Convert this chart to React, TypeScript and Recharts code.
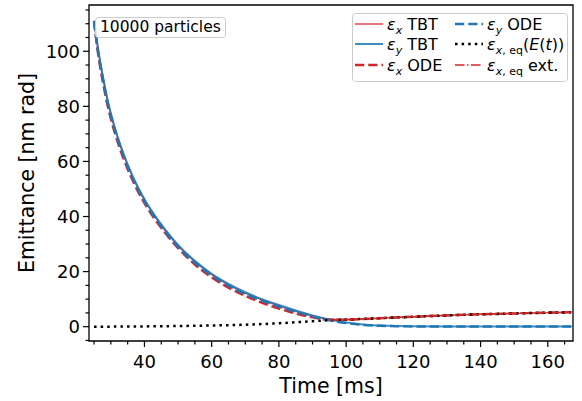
import React from "react";
import { LineChart, Line, XAxis, YAxis, ReferenceArea } from "recharts";

// time axis [ms]
const times = [25, 26, 27, 28, 29, 30, 32, 34, 36, 38, 40, 43, 46, 50, 55, 60, 65, 70, 75, 80, 85, 90, 95, 100, 105, 110, 115, 120, 130, 140, 150, 160, 167];

// emittances [nm rad]
const epsXTbt = [111, 102.3, 94.8, 88.3, 82.2, 77.2, 68.7, 61.7, 55.7, 50.5, 46, 40.2, 35.2, 29.4, 23.6, 18.9, 15.2, 12.2, 9.7, 7.6, 5.6, 3.9, 2.7, 2.55, 2.75, 3.05, 3.35, 3.6, 4.1, 4.5, 4.8, 5.1, 5.2];
const epsYTbt = [111, 102.5, 95, 88.5, 82.5, 77.5, 69, 62, 56, 50.8, 46.3, 40.5, 35.5, 29.7, 23.9, 19.2, 15.5, 12.5, 10, 7.9, 5.9, 4.1, 2.6, 1.5, 0.8, 0.45, 0.25, 0.15, 0.1, 0.08, 0.07, 0.06, 0.06];
const epsXOde = [111, 101, 93, 86.5, 80.5, 75.5, 67.2, 60.3, 54.4, 49.3, 44.9, 39.2, 34.3, 28.5, 22.6, 17.9, 14.2, 11.2, 8.7, 6.6, 4.8, 3.4, 2.5, 2.5, 2.75, 3.05, 3.35, 3.6, 4.1, 4.5, 4.8, 5.1, 5.2];
const epsYOde = [111, 101.5, 94, 87.5, 81.5, 76.5, 68.2, 61.2, 55.2, 50.1, 45.6, 39.8, 34.8, 29, 23.2, 18.6, 14.9, 11.9, 9.4, 7.3, 5.4, 3.7, 2.3, 1.3, 0.65, 0.33, 0.18, 0.1, 0.06, 0.05, 0.05, 0.05, 0.05];
const epsEqE = [0, 0, 0, 0, 0, 0.02, 0.03, 0.05, 0.06, 0.08, 0.1, 0.13, 0.17, 0.25, 0.32, 0.42, 0.55, 0.72, 0.95, 1.25, 1.6, 2.0, 2.35, 2.6, 2.85, 3.1, 3.35, 3.6, 4.1, 4.5, 4.8, 5.1, 5.2];
const epsEqExt = [null, null, null, null, null, null, null, null, null, null, null, null, null, null, null, null, null, null, null, null, null, null, 2.4, 2.62, 2.88, 3.12, 3.37, 3.62, 4.12, 4.52, 4.82, 5.12, 5.22];

const xMajor = [40, 60, 80, 100, 120, 140, 160];
const xTicks = [25, 30, 35, 40, 45, 50, 55, 60, 65, 70, 75, 80, 85, 90, 95, 100, 105, 110, 115, 120, 125, 130, 135, 140, 145, 150, 155, 160, 165];
const yMajor = [0, 20, 40, 60, 80, 100];
const yTicks = [-5, 0, 5, 10, 15, 20, 25, 30, 35, 40, 45, 50, 55, 60, 65, 70, 75, 80, 85, 90, 95, 100, 105, 110, 115];

const data = times.map((t, i) => ({
  t,
  xTbt: epsXTbt[i],
  yTbt: epsYTbt[i],
  xOde: epsXOde[i],
  yOde: epsYOde[i],
  eqE: epsEqE[i],
  eqExt: epsEqExt[i],
}));

const RED = "#d62728";
const BLUE = "#1f77b4";
const FONT = "DejaVu Sans";

const XTick = (props: any) => {
  const { x, y, payload } = props;
  const major = xMajor.includes(payload.value);
  return (
    <g>
      <line x1={x} x2={x} y1={y} y2={y + (major ? 6 : 3.5)} stroke="#000" strokeWidth={1.2} />
      {major && (
        <text x={x} y={y + 27} textAnchor="middle" fontSize={18} fontFamily={FONT} fill="#000">
          {payload.value}
        </text>
      )}
    </g>
  );
};

const YTick = (props: any) => {
  const { x, y, payload } = props;
  const major = yMajor.includes(payload.value);
  return (
    <g>
      <line x1={x} x2={x - (major ? 6 : 3.5)} y1={y} y2={y} stroke="#000" strokeWidth={1.2} />
      {major && (
        <text x={x - 9} y={y + 6.5} textAnchor="end" fontSize={18} fontFamily={FONT} fill="#000">
          {payload.value}
        </text>
      )}
    </g>
  );
};

const Sample = ({ x, y, color, width, dash, opacity = 1 }: any) => (
  <line x1={x} x2={x + 28} y1={y} y2={y} stroke={color} strokeWidth={width} strokeDasharray={dash} strokeOpacity={opacity} />
);

const Eps = ({ sub, rest }: { sub: React.ReactNode; rest: React.ReactNode }) => (
  <>
    <tspan fontStyle="italic">ε</tspan>
    <tspan fontSize={11} dy={4}>{sub}</tspan>
    <tspan dy={-4}>{rest}</tspan>
  </>
);

const Overlay = () => (
  <svg width={582} height={401} style={{ position: "absolute", left: 0, top: 0, pointerEvents: "none" }}>
    {/* annotation */}
    <rect x={95.5} y={17.5} width={130} height={20} rx={3} fill="rgba(255,255,255,0.8)" stroke="#cccccc" strokeWidth={1} />
    <text x={100} y={32} fontSize={15.5} fontFamily={FONT} fill="#000">10000 particles</text>

    {/* legend */}
    <rect x={352.5} y={13.5} width={215} height={68} rx={3} fill="rgba(255,255,255,0.8)" stroke="#cccccc" strokeWidth={1} />
    <g fontFamily={FONT} fontSize={16} fill="#000">
      <Sample x={355} y={24} color={RED} width={1.5} opacity={0.85} />
      <text x={387} y={30}><Eps sub={<tspan fontStyle="italic">x</tspan>} rest=" TBT" /></text>
      <Sample x={355} y={44} color={BLUE} width={2} opacity={0.85} />
      <text x={387} y={50}><Eps sub={<tspan fontStyle="italic">y</tspan>} rest=" TBT" /></text>
      <Sample x={355} y={65} color={RED} width={2.5} dash="9.25 4" />
      <text x={387} y={71}><Eps sub={<tspan fontStyle="italic">x</tspan>} rest=" ODE" /></text>

      <Sample x={455} y={24} color={BLUE} width={2.5} dash="9.25 4" />
      <text x={487} y={30}><Eps sub={<tspan fontStyle="italic">y</tspan>} rest=" ODE" /></text>
      <Sample x={455} y={44} color="#000" width={2.5} dash="2.5 4.1" />
      <text x={487} y={50}>
        <Eps
          sub={<><tspan fontStyle="italic">x</tspan>, eq</>}
          rest={<>(<tspan fontStyle="italic">E</tspan>(<tspan fontStyle="italic">t</tspan>))</>}
        />
      </text>
      <Sample x={455} y={65} color={RED} width={1.5} dash="9.6 2.4 1.5 2.4" />
      <text x={487} y={71}>
        <Eps sub={<><tspan fontStyle="italic">x</tspan>, eq</>} rest=" ext." />
      </text>
    </g>

    {/* axis labels */}
    <text x={331} y={393} textAnchor="middle" fontSize={20.5} fontFamily={FONT} fill="#000">Time [ms]</text>
    <text x={34} y={173} textAnchor="middle" fontSize={20.5} fontFamily={FONT} fill="#000" transform="rotate(-90 34 173)">
      Emittance [nm rad]
    </text>
  </svg>
);

export default function App() {
  return (
    <div style={{ position: "absolute", left: 0, top: 0, width: 582, height: 401, background: "#fff" }}>
      <LineChart width={582} height={401} data={data} margin={{ top: 5, right: 9, left: 0, bottom: 0 }}>
        <XAxis
          dataKey="t"
          type="number"
          domain={[23.5, 167.5]}
          ticks={xTicks}
          interval={0}
          tick={<XTick />}
          tickSize={0}
          tickMargin={0}
          tickLine={false}
          axisLine={false}
          height={60}
        />
        <YAxis
          type="number"
          domain={[-5.2, 116.8]}
          ticks={yTicks}
          interval={0}
          tick={<YTick />}
          tickSize={0}
          tickMargin={0}
          tickLine={false}
          axisLine={false}
          width={89}
          allowDataOverflow
        />
        <Line dataKey="xTbt" type="monotone" stroke={RED} strokeOpacity={0.85} strokeWidth={1.5} dot={false} isAnimationActive={false} />
        <Line dataKey="yTbt" type="monotone" stroke={BLUE} strokeOpacity={0.85} strokeWidth={2} dot={false} isAnimationActive={false} />
        <Line dataKey="xOde" type="monotone" stroke={RED} strokeWidth={2.5} strokeDasharray="9.25 4" dot={false} isAnimationActive={false} />
        <Line dataKey="yOde" type="monotone" stroke={BLUE} strokeWidth={2.5} strokeDasharray="9.25 4" dot={false} isAnimationActive={false} />
        <Line dataKey="eqE" type="monotone" stroke="#000" strokeWidth={2.5} strokeDasharray="2.5 4.1" dot={false} isAnimationActive={false} />
        <Line dataKey="eqExt" type="monotone" stroke={RED} strokeWidth={1.5} strokeDasharray="9.6 2.4 1.5 2.4" dot={false} isAnimationActive={false} />
        <ReferenceArea x1={23.5} x2={167.5} y1={-5.2} y2={116.8} fill="none" stroke="#000" strokeWidth={1.3} ifOverflow="visible" />
      </LineChart>
      <Overlay />
    </div>
  );
}
